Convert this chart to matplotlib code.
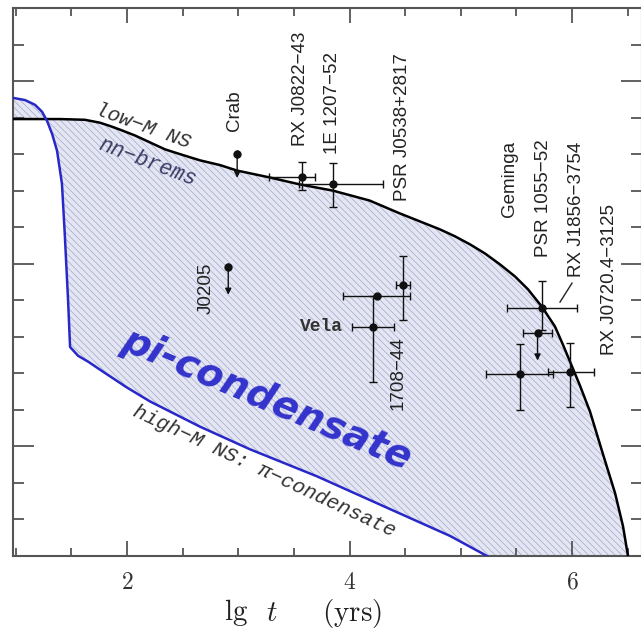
import matplotlib
matplotlib.use("Agg")
import matplotlib.pyplot as plt
import numpy as np
from matplotlib.ticker import MultipleLocator

# cooling curves (lg t, lg Ts)
low_m_x = [0.975, 1.398, 1.622, 1.757, 1.847, 1.937, 2.072, 2.207, 2.342, 2.476, 2.656,
           2.836, 2.989, 3.285, 3.555, 3.852, 4.18, 4.45, 4.813, 4.948, 5.083, 5.218,
           5.353, 5.488, 5.604, 5.73, 5.847, 5.919, 5.982, 6.072, 6.162, 6.279, 6.387,
           6.458, 6.503]
low_m_y = [6.396, 6.396, 6.394, 6.386, 6.377, 6.367, 6.351, 6.332, 6.313, 6.300, 6.283,
           6.270, 6.255, 6.236, 6.217, 6.200, 6.173, 6.138, 6.094, 6.075, 6.053, 6.028,
           5.998, 5.965, 5.930, 5.882, 5.828, 5.778, 5.732, 5.666, 5.595, 5.478, 5.372,
           5.282, 5.200]

high_m_x = [0.975, 1.083, 1.173, 1.236, 1.281, 1.326, 1.371, 1.415, 1.44, 1.47, 1.488,
            1.56, 1.65, 1.757, 2.0, 2.207, 2.656, 3.106, 3.708, 4.301, 4.903, 5.236]
high_m_y = [6.454, 6.448, 6.435, 6.416, 6.391, 6.356, 6.309, 6.219, 6.083, 5.900, 5.772,
            5.748, 5.732, 5.710, 5.661, 5.623, 5.554, 5.492, 5.418, 5.337, 5.255, 5.200]

# sources with error bars
pt_name = ["RX J0822-43", "1E 1207-52", "PSR J0538+2817", "1706-44", "Vela",
           "RX J1856-3754", "Geminga", "RX J0720.4-3125"]
pt_x = [3.57, 3.85, 4.48, 4.25, 4.21, 5.73, 5.53, 5.98]
pt_y = [6.238, 6.217, 5.941, 5.911, 5.827, 5.879, 5.699, 5.704]
pt_xlo = [0.29, 0.30, 0.06, 0.31, 0.19, 0.315, 0.30, 0.20]
pt_xhi = [0.12, 0.45, 0.06, 0.29, 0.19, 0.315, 0.30, 0.22]
pt_ylo = [0.035, 0.063, 0.095, 0.0, 0.15, 0.06, 0.10, 0.095]
pt_yhi = [0.04, 0.06, 0.08, 0.0, 0.085, 0.075, 0.08, 0.08]

# upper limits
lim_name = ["Crab", "J0205", "PSR 1055-52"]
lim_x = [2.99, 2.91, 5.69]
lim_y = [6.301, 5.99, 5.81]
lim_to = [6.235, 5.915, 5.735]
lim_xerr = [0.0, 0.0, 0.13]

# source labels: text, x, y, rotation, ha, va
lbl_text = ["Crab", "RX J0822\u221243", "1E 1207\u221252", "PSR J0538+2817", "J0205",
            "Vela", "1708\u221244", "Geminga", "PSR 1055\u221252", "RX J1856\u22123754",
            "RX J0720.4\u22123125"]
lbl_x = [2.97, 3.555, 3.85, 4.48, 2.71, 3.94, 4.436, 5.434, 5.74, 6.036, 6.333]
lbl_y = [6.364, 6.323, 6.301, 6.173, 5.933, 5.827, 5.80, 6.127, 6.018, 5.963, 5.751]
lbl_rot = [90, 90, 90, 90, 90, 0, 90, 90, 90, 90, 90]
lbl_ha = ["center"] * 5 + ["right"] + ["center"] * 5
lbl_va = ["bottom"] * 4 + ["center", "center", "top"] + ["bottom"] * 4

x_ticks = [2, 4, 6]

plt.rcParams["mathtext.fontset"] = "cm"
plt.rcParams["hatch.linewidth"] = 0.5

fig = plt.figure(figsize=(6.41, 6.29), dpi=100)
ax = fig.add_axes([13 / 641, 73 / 629, 629 / 641, 548 / 629])

# shaded band between the two curves
poly_x = np.concatenate([low_m_x, high_m_x[::-1]])
poly_y = np.concatenate([low_m_y, high_m_y[::-1]])
ax.fill(poly_x, poly_y, facecolor="#e4e6f3", edgecolor="none", zorder=1)
ax.fill(poly_x, poly_y, facecolor="none", edgecolor="#a3a7c6", linewidth=0,
        hatch="\\\\\\\\\\", zorder=1)

ax.plot(low_m_x, low_m_y, color="black", lw=1.8, zorder=3)
ax.plot(high_m_x, high_m_y, color="#2828c8", lw=1.8, zorder=3)

ax.errorbar(pt_x, pt_y, xerr=[pt_xlo, pt_xhi], yerr=[pt_ylo, pt_yhi], fmt="o",
            color="#111111", ms=5, elinewidth=1, capsize=3, capthick=1, zorder=4)
ax.errorbar(lim_x, lim_y, xerr=lim_xerr, fmt="o", color="#111111", ms=5,
            elinewidth=1, capsize=3, capthick=1, zorder=4)
for x, y0, y1 in zip(lim_x, lim_y, lim_to):
    ax.annotate("", xy=(x, y1), xytext=(x, y0),
                arrowprops=dict(arrowstyle="-|>", color="#111111", lw=1,
                                mutation_scale=9, shrinkA=0, shrinkB=0), zorder=4)

for t, x, y, r, ha, va in zip(lbl_text, lbl_x, lbl_y, lbl_rot, lbl_ha, lbl_va):
    if t == "Vela":
        ax.text(x, y, t, rotation=r, ha=ha, va=va, fontsize=13,
                family="Liberation Mono", fontweight="bold", color="#333333")
    else:
        ax.text(x, y, t, rotation=r, ha=ha, va=va, fontsize=13.5,
                family="Liberation Sans", color="#222222")

# leader from RX J1856 label to its point
ax.plot([5.892, 6.0], [5.895, 5.947], color="#222222", lw=1)

ax.text(2.144, 6.377, "low\u2212M NS", rotation=-20, ha="center", va="center",
        fontsize=15, family="Liberation Mono", style="italic", color="#333333")
ax.text(2.18, 6.277, "nn\u2212brems", rotation=-21, ha="center", va="center",
        fontsize=15.5, family="Liberation Mono", style="italic", color="#3a3d66")
ax.text(3.23, 5.432, "high\u2212M NS: \u03c0\u2212condensate", rotation=-25,
        ha="center", va="center", fontsize=15, family="Liberation Mono",
        style="italic", color="#333333")
ax.text(3.258, 5.628, "pi-condensate", rotation=-23, ha="center", va="center",
        fontsize=28, fontweight="bold", style="italic", color="#3333cc", zorder=5)

ax.set_xlim(0.975, 6.629)
ax.set_ylim(5.2, 6.7)
ax.xaxis.set_minor_locator(MultipleLocator(0.5))
ax.yaxis.set_major_locator(MultipleLocator(0.5))
ax.yaxis.set_minor_locator(MultipleLocator(0.1))
ax.set_xticks(x_ticks)
ax.set_xticklabels([f"${t}$" for t in x_ticks], fontsize=17)
ax.tick_params(which="both", direction="in", top=True, right=True,
               colors="#555555", labelcolor="#333333", width=1.3)
ax.tick_params(axis="x", which="major", length=11, pad=10)
ax.tick_params(axis="x", which="minor", length=5.5)
ax.tick_params(axis="y", which="major", length=15, labelleft=False)
ax.tick_params(axis="y", which="minor", length=8)
for s in ax.spines.values():
    s.set_color("#555555")
    s.set_linewidth(1.5)

# axis title, pieces placed where they sit in the picture
fig.text(236 / 641, 1 - 613 / 629, r"$\mathrm{lg}$", ha="center", va="center",
         fontsize=21, color="#222222")
fig.text(272 / 641, 1 - 613 / 629, r"$t$", ha="center", va="center",
         fontsize=21, color="#222222")
fig.text(352 / 641, 1 - 613 / 629, r"$\mathrm{(yrs)}$", ha="center", va="center",
         fontsize=21, color="#222222")

fig.savefig("out.png", dpi=100)
